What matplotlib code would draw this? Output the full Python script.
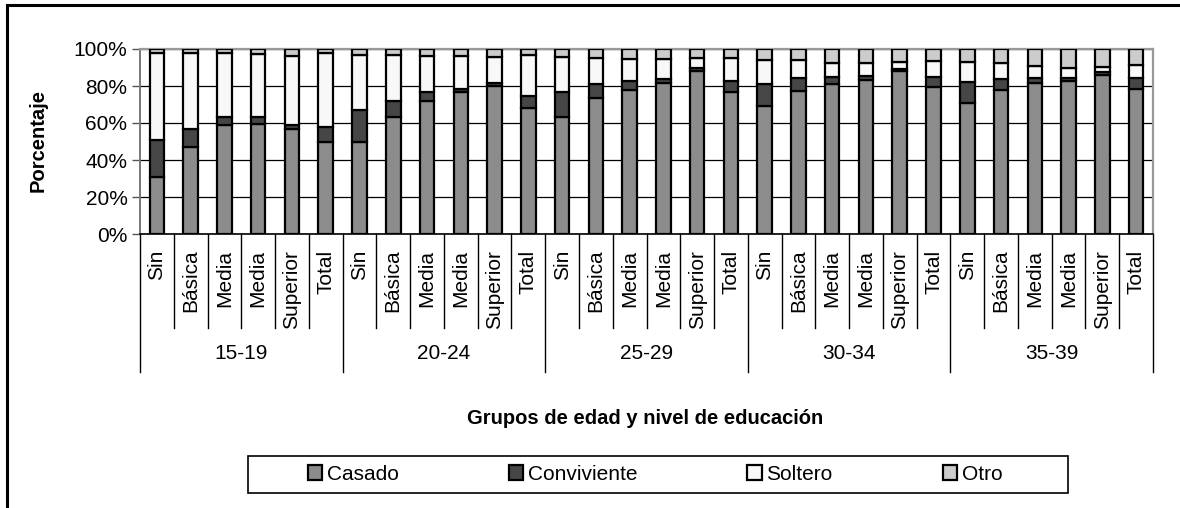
import numpy as np
import matplotlib
matplotlib.use("Agg")
import matplotlib.pyplot as plt
from matplotlib.lines import Line2D
from matplotlib.patches import Patch, Rectangle

plt.rcParams['font.family'] = ['Liberation Sans', 'DejaVu Sans']

groups = ["15-19", "20-24", "25-29", "30-34", "35-39"]
levels = ["Sin", "Básica", "Media", "Media", "Superior", "Total"]
series_names = ["Casado", "Conviviente", "Soltero", "Otro"]

# percentages, per group: Sin, Básica, Media, Media, Superior, Total
casado = [31, 47, 59, 59.5, 57, 50,
          50, 63.5, 72, 76.5, 80, 68,
          63, 73.5, 78, 81.5, 88, 77,
          69, 77.5, 81, 83, 88, 79.5,
          71, 78, 81.5, 82.5, 86, 78.5]
conviviente = [20, 10, 4, 3.5, 2, 8,
               17, 8.5, 5, 2, 1.5, 6.5,
               14, 7.5, 4.5, 2.5, 1.5, 5.5,
               12, 7, 4, 2.5, 1, 5.5,
               11, 6, 3, 2, 1.5, 6]
soltero = [47, 41, 35, 34.5, 37, 40,
           30, 25, 19, 17.5, 14, 22,
           18.5, 14, 12, 10.5, 5.5, 12.5,
           13, 9.5, 7.5, 7, 4, 8.5,
           11, 8.5, 6.5, 5, 3, 7]
otro = [2, 2, 2, 2.5, 4, 2,
        3, 3, 4, 4, 4.5, 3.5,
        4.5, 5, 5.5, 5.5, 5, 5,
        6, 6, 7.5, 7.5, 7, 6.5,
        7, 7.5, 9, 10.5, 9.5, 8.5]

colors = ["#8c8c8c", "#464646", "#f8f8f8", "#cccccc"]

fig = plt.figure(figsize=(11.8, 5.08), dpi=100)
ax = fig.add_axes([140 / 1180, 1 - 234 / 508, 1013 / 1180, 185 / 508])

n = len(casado)
x = np.arange(n)
bottom = np.zeros(n)
for vals, col, name in zip([casado, conviviente, soltero, otro], colors, series_names):
    vals = np.array(vals, dtype=float)
    ax.bar(x, vals, 0.43, bottom=bottom, color=col, edgecolor="black",
           linewidth=1.6, label=name, zorder=3)
    bottom += vals

ax.set_xlim(-0.5, n - 0.5)
ax.set_ylim(0, 100)
ax.set_yticks([0, 20, 40, 60, 80, 100])
ax.set_yticklabels(["0%", "20%", "40%", "60%", "80%", "100%"], fontsize=15)
ax.tick_params(axis="y", length=6, width=1, color="#555555", pad=3)
ax.set_xticks([])
ax.grid(axis="y", color="black", linewidth=0.9, zorder=0)
for s in ["top", "right"]:
    ax.spines[s].set_color("#999999")
    ax.spines[s].set_linewidth(1.6)
ax.spines["left"].set_color("#777777")
ax.spines["left"].set_linewidth(1.4)
ax.spines["bottom"].set_color("black")
ax.spines["bottom"].set_linewidth(1.2)

# multi-level category axis
tr = ax.get_xaxis_transform()
for i in range(n + 1):
    y_end = -0.746 if i % 6 == 0 else -0.508
    ax.plot([i - 0.5, i - 0.5], [0, y_end], transform=tr, color="black",
            linewidth=1, clip_on=False)
for i in range(n):
    ax.text(i, -0.085, levels[i % 6], transform=tr, rotation=90,
            ha="center", va="top", fontsize=15)
for g, name in enumerate(groups):
    ax.text(g * 6 + 2.5, -0.648, name, transform=tr, ha="center",
            va="center", fontsize=15)

fig.text(645 / 1180, 1 - 419 / 508, "Grupos de edad y nivel de educación",
         ha="center", va="center", fontsize=14.5, fontweight="bold")
fig.text(38 / 1180, 1 - 140 / 508, "Porcentaje", rotation=90,
         ha="center", va="center", fontsize=14.5, fontweight="bold")

handles = [Patch(facecolor=c, edgecolor="black", linewidth=1.6) for c in colors]
leg = fig.legend(handles, series_names, loc="center",
                 bbox_to_anchor=(655 / 1180, 1 - 474.5 / 508), ncol=4,
                 fontsize=15, frameon=False,
                 handlelength=0.7, handleheight=0.7, handletextpad=0.2,
                 columnspacing=5.3, borderpad=0.5)
fig.add_artist(Rectangle((248 / 1180, 1 - 493 / 508), (1068 - 248) / 1180,
                         37 / 508, transform=fig.transFigure, facecolor="none",
                         edgecolor="black", linewidth=1.2))

# outer chart frame (left and top edges visible)
fig.add_artist(Line2D([6.5 / 1180, 6.5 / 1180], [0, 1 - 5 / 508],
                      transform=fig.transFigure, color="black", linewidth=2.2))
fig.add_artist(Line2D([6.5 / 1180, 1], [1 - 5 / 508, 1 - 5 / 508],
                      transform=fig.transFigure, color="black", linewidth=2.2))

fig.savefig("out.png", dpi=100)
